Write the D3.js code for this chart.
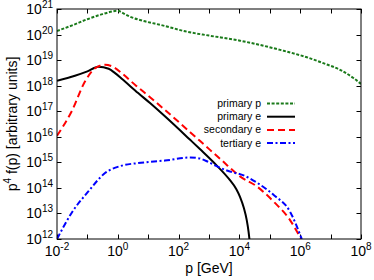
<!DOCTYPE html>
<html>
<head>
<meta charset="utf-8">
<script src="https://cdn.jsdelivr.net/npm/d3@7"></script>
<style>
body { margin: 0; background: #fff; }
svg { display: block; font-family: "Liberation Sans", Arial, sans-serif; }
</style>
</head>
<body>
<svg id="chart" width="374" height="280"></svg>
<script>

var xTicks = [-2, -1, 0, 1, 2, 3, 4, 5, 6, 7, 8]
var xLabels = [-2, 0, 2, 4, 6, 8]
var yTicks = [12, 13, 14, 15, 16, 17, 18, 19, 20, 21]

var names = ['primary p', 'primary e', 'secondary e', 'tertiary e']
var colors = ['#1a7a1a', '#000000', '#ff0000', '#0000ff']
var dashes = ['3,1.6', null, '7,4', '6,2.5,2,2.5']

var primPx = [-2, -1.5, -1, -0.5, 0, 0.17, 0.4, 0.73, 1.5, 2.28, 3, 4.02, 4.35, 5.34, 6.22, 6.76, 7.31, 7.75, 8]
var primPy = [20.14, 20.36, 20.6, 20.8, 20.93, 20.84, 20.7, 20.57, 20.35, 20.11, 19.96, 19.76, 19.68, 19.4, 19.11, 18.88, 18.62, 18.3, 18.07]

var primEx = [-2, -1.41, -1, -0.64, -0.3, -0.09, 0.13, 0.67, 1.06, 1.55, 2.38, 2.7, 3.25, 3.69, 3.9, 4.02, 4.15, 4.24, 4.3, 4.33]
var primEy = [18.19, 18.39, 18.56, 18.74, 18.66, 18.49, 18.27, 17.71, 17.32, 16.8, 15.88, 15.52, 14.88, 14.3, 13.95, 13.65, 13.2, 12.75, 12.3, 12]

var secEx = [-2, -1.52, -1.08, -0.75, -0.42, -0.1, 0.13, 0.6, 1.06, 1.55, 2.7, 3.4, 4.02, 4.57, 5.12, 5.66, 6.03]
var secEy = [16.04, 16.99, 18.16, 18.68, 18.82, 18.7, 18.49, 18.0, 17.55, 17.05, 15.84, 15.1, 14.45, 14.06, 13.47, 12.75, 12.0]

var terEx = [-2, -1.52, -0.97, -0.42, 0.13, 0.67, 1.06, 1.55, 2.38, 2.7, 3.0, 3.25, 3.8, 4.02, 4.57, 5.12, 5.66, 6.05]
var terEy = [12, 13.02, 13.86, 14.58, 14.87, 14.97, 15.02, 15.07, 15.19, 15.15, 15.0, 14.85, 14.6, 14.54, 14.21, 13.73, 13.08, 12.0]

var svg = d3.select('#chart'),
	margin = {top: 9, right: 13, bottom: 41, left: 57},
	width = +svg.attr('width') - margin.left - margin.right,
	height = +svg.attr('height') - margin.top - margin.bottom,
	g = svg.append('g').attr('transform', 'translate(' + margin.left + ',' + margin.top + ')')

var x = d3.scaleLog().domain([1e-2, 1e8]).range([0, width])
var y = d3.scaleLog().domain([1e12, 1e21]).range([height, 0])

function pairs(px, py) {
	return px.map(function(p, i) { return [Math.pow(10, p), Math.pow(10, py[i])] })
}
var series = [pairs(primPx, primPy), pairs(primEx, primEy), pairs(secEx, secEy), pairs(terEx, terEy)]

// ticks, inward on all four sides
var tickLen = 4.5
var ticks = g.append('g').attr('stroke', '#000').attr('stroke-width', 1)
xTicks.forEach(function(e) {
	var xx = Math.round(x(Math.pow(10, e))) + 0.5
	ticks.append('line').attr('x1', xx).attr('x2', xx).attr('y1', height).attr('y2', height - tickLen)
	ticks.append('line').attr('x1', xx).attr('x2', xx).attr('y1', 0).attr('y2', tickLen)
})
yTicks.forEach(function(e) {
	var yy = Math.round(y(Math.pow(10, e))) + 0.5
	ticks.append('line').attr('x1', 0).attr('x2', tickLen).attr('y1', yy).attr('y2', yy)
	ticks.append('line').attr('x1', width).attr('x2', width - tickLen).attr('y1', yy).attr('y2', yy)
})

// tick labels
xLabels.forEach(function(e) {
	var t = g.append('text').attr('x', x(Math.pow(10, e))).attr('y', height + 17)
		.attr('text-anchor', 'middle').attr('font-size', 14).attr('fill', '#000')
	t.append('tspan').text('10')
	t.append('tspan').attr('dy', -6).attr('font-size', 10).text(e)
})
yTicks.forEach(function(e) {
	var t = g.append('text').attr('x', -4).attr('y', y(Math.pow(10, e)) + 5)
		.attr('text-anchor', 'end').attr('font-size', 14).attr('fill', '#000')
	t.append('tspan').text('10')
	t.append('tspan').attr('dy', -6).attr('font-size', 10).text(e)
})

// axis titles
g.append('text').attr('x', width / 2).attr('y', height + 34)
	.attr('text-anchor', 'middle').attr('font-size', 14).text('p [GeV]')
var yt = svg.append('text').attr('transform', 'translate(17,' + (margin.top + height / 2) + ') rotate(-90)')
	.attr('text-anchor', 'middle').attr('font-size', 14)
yt.append('tspan').text('p')
yt.append('tspan').attr('dy', -6).attr('font-size', 10).text('4')
yt.append('tspan').attr('dy', 6).text(' f(p) [arbitrary units]')

// curves
g.append('clipPath').attr('id', 'clip').append('rect').attr('width', width).attr('height', height)
var line = d3.line()
	.x(function(d) { return x(d[0]) })
	.y(function(d) { return y(d[1]) })
	.curve(d3.curveMonotoneX)

series.forEach(function(s, i) {
	g.append('path').datum(s)
		.attr('clip-path', 'url(#clip)')
		.attr('fill', 'none')
		.attr('stroke', colors[i])
		.attr('stroke-width', 2)
		.attr('stroke-dasharray', dashes[i])
		.attr('d', line)
})

// legend
var legend = g.append('g').attr('transform', 'translate(' + (261 - margin.left) + ',' + (103.5 - margin.top) + ')')
names.forEach(function(n, i) {
	var row = legend.append('g').attr('transform', 'translate(0,' + (i * 13.2) + ')')
	row.append('text').attr('x', 0).attr('y', 3.5).attr('text-anchor', 'end')
		.attr('font-size', 10.5).attr('fill', '#000').text(n)
	row.append('line').attr('x1', 6).attr('x2', 34).attr('y1', 0).attr('y2', 0)
		.attr('stroke', colors[i]).attr('stroke-width', 2).attr('stroke-dasharray', dashes[i])
})

// frame
g.append('rect').attr('width', width).attr('height', height)
	.attr('fill', 'none').attr('stroke', '#000').attr('stroke-width', 1)
</script>
</body>
</html>
